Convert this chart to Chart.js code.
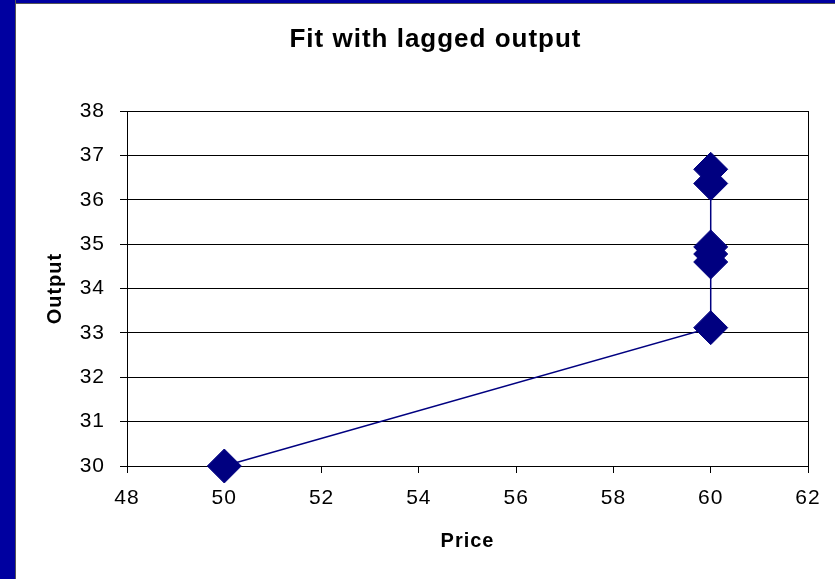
<!DOCTYPE html>
<html>
<head>
<meta charset="utf-8">
<script src="https://cdn.jsdelivr.net/npm/chart.js@4/dist/chart.umd.min.js"></script>
<style>
  html, body { margin: 0; padding: 0; background: #fff; }
  body { width: 835px; height: 579px; position: relative; overflow: hidden; }
  #leftBar { position: absolute; left: 0; top: 0; width: 15px; height: 579px; background: #0000a0; border-right: 1px solid #555; }
  #topBar { position: absolute; left: 0; top: 0; width: 835px; height: 3px; background: #0000a0; border-bottom: 1px solid #555; }
  #chart { position: absolute; left: 16px; top: 4px; }
</style>
</head>
<body>
<div id="topBar"></div>
<div id="leftBar"></div>
<canvas id="chart" width="819" height="575"></canvas>
<script>
// price / output pairs
const prices = [50, 60, 60, 60, 60, 60, 60];
const outputs = [30, 33.12, 34.6, 34.78, 34.94, 36.37, 36.69];

const xTicks = [48, 50, 52, 54, 56, 58, 60, 62];
const yTicks = [30, 31, 32, 33, 34, 35, 36, 37, 38];

const navy = '#000080';
const fontFamily = '"Liberation Sans", Arial, sans-serif';

const points = prices.map((p, i) => ({ x: p, y: outputs[i] }));

// the reference text is drawn a little wide, so space the letters out a bit
const spacingPlugin = {
    id: 'spacing',
    beforeDraw(chart) {
        chart.ctx.letterSpacing = '1px';
    }
};

const ctx = document.getElementById('chart').getContext('2d');

window.fitChart = new Chart(ctx, {
    type: 'scatter',
    data: {
        datasets: [{
            label: 'Output',
            data: points,
            showLine: true,
            clip: false,
            borderColor: navy,
            borderWidth: 1.5,
            backgroundColor: navy,
            pointStyle: 'rectRot',
            pointRadius: 17,
            pointHoverRadius: 17,
            pointBorderWidth: 1,
            pointBorderColor: navy,
            pointBackgroundColor: navy
        }]
    },
    options: {
        responsive: false,
        animation: false,
        layout: { padding: { left: 20, top: 0, right: 0, bottom: 0 } },
        plugins: {
            legend: { display: false },
            tooltip: { enabled: false },
            title: {
                display: true,
                text: 'Fit with lagged output',
                color: '#000',
                font: { family: fontFamily, size: 26, weight: 'bold' },
                padding: { top: 20, bottom: 56 }
            }
        },
        scales: {
            x: {
                type: 'linear',
                min: xTicks[0],
                max: xTicks[xTicks.length - 1],
                afterBuildTicks: axis => { axis.ticks = xTicks.map(v => ({ value: v })); },
                afterFit: axis => { axis.height = 113; },
                grid: { drawOnChartArea: false, drawTicks: true, tickLength: 7, color: '#000' },
                border: { display: true, color: '#000', width: 1 },
                ticks: { color: '#000', padding: 13, maxRotation: 0, font: { family: fontFamily, size: 21 } },
                title: {
                    display: true,
                    text: 'Price',
                    color: '#000',
                    font: { family: fontFamily, size: 20, weight: 'bold' },
                    padding: { top: 0, bottom: 26 }
                }
            },
            y: {
                type: 'linear',
                min: yTicks[0],
                max: yTicks[yTicks.length - 1],
                afterBuildTicks: axis => { axis.ticks = yTicks.map(v => ({ value: v })); },
                afterFit: axis => { axis.width = 91; },
                grid: { drawOnChartArea: true, drawTicks: true, tickLength: 7, color: '#000', lineWidth: 1 },
                border: { display: true, color: '#000', width: 1 },
                ticks: { color: '#000', padding: 15, font: { family: fontFamily, size: 21 } },
                title: {
                    display: true,
                    text: 'Output',
                    color: '#000',
                    font: { family: fontFamily, size: 20, weight: 'bold' },
                    padding: { top: 7, bottom: 0 }
                }
            },
            yRight: {
                type: 'linear',
                position: 'right',
                min: yTicks[0],
                max: yTicks[yTicks.length - 1],
                afterFit: axis => { axis.width = 27; },
                grid: { display: false },
                border: { display: true, color: '#000', width: 1 },
                ticks: { display: false }
            }
        }
    },
    plugins: [spacingPlugin]
});
</script>
</body>
</html>
